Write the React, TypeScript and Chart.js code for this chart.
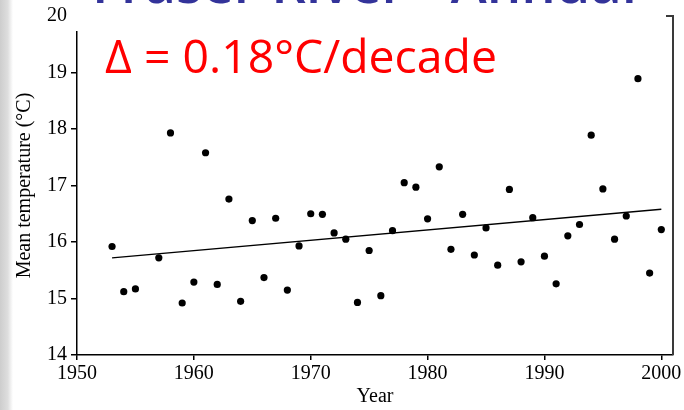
import React, { useEffect, useRef } from 'react';
import { Chart, registerables } from 'chart.js';

Chart.register(...registerables);

const YEARS = [
  1953, 1954, 1955, 1957, 1958, 1959, 1960, 1961, 1962, 1963, 1964, 1965, 1966, 1967, 1968, 1969,
  1970, 1971, 1972, 1973, 1974, 1975, 1976, 1977, 1978, 1979, 1980, 1981, 1982, 1983, 1984, 1985,
  1986, 1987, 1988, 1989, 1990, 1991, 1992, 1993, 1994, 1995, 1996, 1997, 1998, 1999, 2000,
];
const TEMPS = [
  15.92, 15.12, 15.17, 15.72, 17.93, 14.92, 15.29, 17.58, 15.25, 16.76, 14.95, 16.38, 15.37, 16.42, 15.15, 15.93,
  16.5, 16.49, 16.16, 16.05, 14.93, 15.85, 15.05, 16.2, 17.05, 16.97, 16.41, 17.33, 15.87, 16.49, 15.77, 16.25,
  15.59, 16.93, 15.65, 16.43, 15.75, 15.26, 16.11, 16.31, 17.89, 16.94, 16.05, 16.46, 18.89, 15.45, 16.22,
];
const TREND_YEARS = [1953, 2000];
const TREND_TEMPS = [15.72, 16.58];
const X_TICKS = [1950, 1960, 1970, 1980, 1990, 2000];
const Y_TICKS = [14, 15, 16, 17, 18, 19, 20];
const TITLE = 'Fraser River - Annual';
const ANNOTATION = 'Δ = 0.18°C/decade';
const X_TITLE = 'Year';
const Y_TITLE = 'Mean temperature (°C)';

const SERIF = "'Liberation Serif', 'Times New Roman', serif";
const SANS = "'Open Sans', 'Noto Sans', sans-serif";

function drawFitted(
  ctx: CanvasRenderingContext2D,
  text: string,
  font: string,
  x: number,
  baseline: number,
  width: number,
  color: string
) {
  ctx.save();
  ctx.font = font;
  const w = ctx.measureText(text).width;
  ctx.translate(x, baseline);
  ctx.scale(width / w, 1);
  ctx.fillStyle = color;
  ctx.textBaseline = 'alphabetic';
  ctx.textAlign = 'left';
  ctx.fillText(text, 0, 0);
  ctx.restore();
}

const decorPlugin = {
  id: 'decor',
  beforeDraw(chart: any) {
    const { ctx, width, height } = chart;
    ctx.save();
    ctx.fillStyle = '#ffffff';
    ctx.fillRect(0, 0, width, height);
    const g = ctx.createLinearGradient(0, 0, 13, 0);
    g.addColorStop(0, '#cdcdcd');
    g.addColorStop(0.6, '#dedede');
    g.addColorStop(1, '#ffffff');
    ctx.fillStyle = g;
    ctx.fillRect(0, 0, 13, height);
    ctx.restore();
  },
  afterDraw(chart: any) {
    const { ctx, chartArea: ca } = chart;
    ctx.save();
    ctx.strokeStyle = '#3a3a3a';
    ctx.lineWidth = 2;
    ctx.beginPath();
    ctx.moveTo(ca.right - 7, ca.top);
    ctx.lineTo(ca.right, ca.top);
    ctx.lineTo(ca.right, ca.bottom);
    ctx.stroke();
    ctx.fillStyle = '#ffffff';
    ctx.fillRect(ca.left - 7, 0, 590, 31);
    ctx.restore();
    drawFitted(ctx, ANNOTATION, `400 46px ${SANS}`, 105, 73, 392, '#ff0000');
    drawFitted(ctx, TITLE, `600 58px ${SANS}`, 92, 3, 545, '#33339a');
  },
};

export default function App() {
  const ref = useRef<HTMLCanvasElement | null>(null);

  useEffect(() => {
    if (!ref.current) return;
    const chart = new Chart(ref.current, {
      type: 'scatter',
      data: {
        datasets: [
          {
            type: 'line',
            data: TREND_YEARS.map((y, i) => ({ x: y, y: TREND_TEMPS[i] })),
            borderColor: '#000',
            borderWidth: 1.3,
            pointRadius: 0,
            fill: false,
          } as any,
          {
            data: YEARS.map((y, i) => ({ x: y, y: TEMPS[i] })),
            backgroundColor: '#000',
            borderWidth: 0,
            pointRadius: 3.6,
          },
        ],
      },
      options: {
        responsive: false,
        animation: false,
        layout: { padding: { left: 0, right: 11, top: 14, bottom: 0 } },
        plugins: {
          legend: { display: false },
          tooltip: { enabled: false },
        },
        scales: {
          x: {
            type: 'linear',
            min: 1950,
            max: 2001,
            afterBuildTicks: (scale: any) => {
              scale.ticks = X_TICKS.map((v) => ({ value: v }));
            },
            afterFit: (scale: any) => {
              scale.height = 55;
            },
            grid: {
              display: true,
              drawOnChartArea: false,
              drawTicks: true,
              tickLength: 5,
              color: '#000',
              lineWidth: 1.5,
            },
            border: { display: true, color: '#000', width: 1.5 },
            ticks: {
              color: '#000',
              font: { family: SERIF, size: 20 },
              padding: 2,
              maxRotation: 0,
              autoSkip: false,
              callback: (v: any) => String(v),
            },
            title: {
              display: true,
              text: X_TITLE,
              color: '#000',
              font: { family: SERIF, size: 20 },
              padding: { top: 0, bottom: 1 },
            },
          },
          y: {
            type: 'linear',
            min: 14,
            max: 20,
            afterBuildTicks: (scale: any) => {
              scale.ticks = Y_TICKS.map((v) => ({ value: v }));
            },
            afterFit: (scale: any) => {
              scale.width = 77;
            },
            grid: {
              display: true,
              drawOnChartArea: false,
              drawTicks: true,
              tickLength: 6,
              color: '#000',
              lineWidth: 1.5,
            },
            border: { display: true, color: '#000', width: 1.5 },
            ticks: {
              color: '#000',
              font: { family: SERIF, size: 20 },
              padding: 4,
              autoSkip: false,
              callback: (v: any) => String(v),
            },
            title: {
              display: true,
              text: Y_TITLE,
              color: '#000',
              font: { family: SERIF, size: 20 },
              padding: { top: 13, bottom: 0 },
            },
          },
        },
      },
      plugins: [decorPlugin],
    });
    return () => chart.destroy();
  }, []);

  return (
    <div style={{ position: 'fixed', left: 0, top: 0, width: 684, height: 410, background: '#fff' }}>
      <canvas ref={ref} width={684} height={410} style={{ display: 'block', width: 684, height: 410 }} />
    </div>
  );
}
